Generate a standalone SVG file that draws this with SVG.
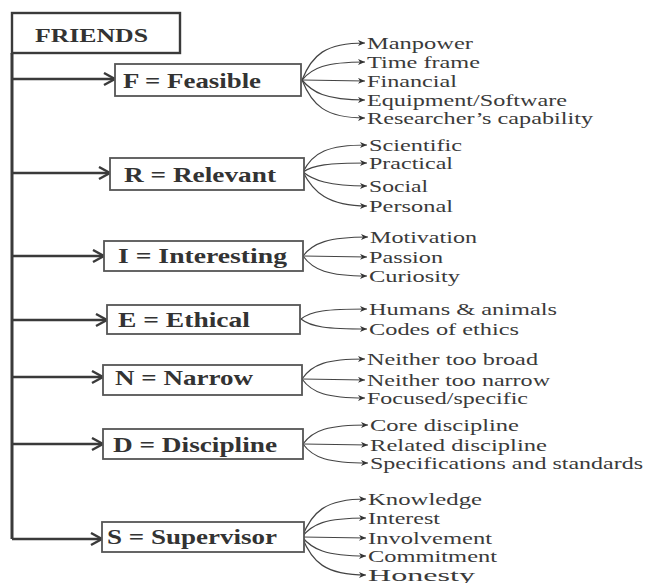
<svg xmlns="http://www.w3.org/2000/svg" width="647" height="583" viewBox="0 0 647 583">
<style>
.bx{fill:#fff;stroke:#555;stroke-width:1.8}
.fr{fill:#fff;stroke:#3a3a3a;stroke-width:2.4}
.hd{font-family:"Liberation Serif",serif;font-weight:bold;fill:#333}
.lf{font-family:"Liberation Serif",serif;font-size:17px;fill:#3a3a3a}
.trunk{fill:none;stroke:#3a3a3a;stroke-width:3}
.br{fill:none;stroke:#3a3a3a;stroke-width:2.4;marker-end:url(#chev)}
.fan{fill:none;stroke:#444;stroke-width:1.2;marker-end:url(#tri)}
</style>
<defs>
<marker id="chev" markerUnits="userSpaceOnUse" markerWidth="14" markerHeight="16" refX="12" refY="7" orient="auto">
<path d="M1,1 L12,7 L1,13" fill="none" stroke="#3a3a3a" stroke-width="2.4"/>
</marker>
<marker id="tri" markerUnits="userSpaceOnUse" markerWidth="8" markerHeight="6" refX="7" refY="3" orient="auto">
<path d="M0,0 L7,3 L0,6 L2,3 z" fill="#333"/>
</marker>
</defs>
<g id="connectors">
<path class="trunk" d="M12,53 V539"/>
<path class="br" d="M12,79 H115"/>
<path class="br" d="M12,173 H110"/>
<path class="br" d="M12,256 H104"/>
<path class="br" d="M12,320 H107"/>
<path class="br" d="M12,377 H103"/>
<path class="br" d="M12,444 H103"/>
<path class="br" d="M12,539 H102"/>
<path class="fan" d="M302,80 C312,55 325,43 365,43"/>
<path class="fan" d="M302,80 C312,68 325,62 365,62"/>
<path class="fan" d="M302,80 L365,81"/>
<path class="fan" d="M302,80 C312,92 325,100 365,100"/>
<path class="fan" d="M302,80 C312,105 325,118 365,118"/>
<path class="fan" d="M303,172 C313,152 328,145 367,145"/>
<path class="fan" d="M303,172 C313,165 328,163 367,163"/>
<path class="fan" d="M303,172 C313,180 328,186 367,186"/>
<path class="fan" d="M303,172 C313,192 328,206 367,206"/>
<path class="fan" d="M303,256 C313,243 328,237 368,237"/>
<path class="fan" d="M303,256 L367,257"/>
<path class="fan" d="M303,256 C313,270 328,276 367,276"/>
<path class="fan" d="M301,319 C311,311 326,309 367,309"/>
<path class="fan" d="M301,319 C311,327 326,329 367,329"/>
<path class="fan" d="M302,379 C312,364 327,359 365,359"/>
<path class="fan" d="M302,379 L365,380"/>
<path class="fan" d="M302,379 C312,393 327,398 365,398"/>
<path class="fan" d="M303,444 C313,430 328,425 368,425"/>
<path class="fan" d="M303,444 L368,445"/>
<path class="fan" d="M303,444 C313,458 328,463 368,463"/>
<path class="fan" d="M302,537 C312,512 325,499 366,499"/>
<path class="fan" d="M302,537 C312,524 325,518 366,518"/>
<path class="fan" d="M302,537 L366,538"/>
<path class="fan" d="M302,537 C312,549 325,556 366,556"/>
<path class="fan" d="M302,537 C312,562 325,575 366,575"/>
</g>
<g id="friends"><rect class="fr" x="12" y="13" width="168" height="40"/><text class="hd" x="35" y="42" font-size="19" textLength="113" lengthAdjust="spacingAndGlyphs">FRIENDS</text></g>
<g id="node-f"><rect class="bx" x="115" y="64" width="186" height="32"/><text class="hd" x="123" y="88" font-size="22" textLength="138" lengthAdjust="spacingAndGlyphs">F = Feasible</text></g>
<g id="node-r"><rect class="bx" x="110" y="158" width="194" height="32"/><text class="hd" x="124" y="182" font-size="22" textLength="152" lengthAdjust="spacingAndGlyphs">R = Relevant</text></g>
<g id="node-i"><rect class="bx" x="104" y="241" width="199" height="30"/><text class="hd" x="118" y="263" font-size="22" textLength="169" lengthAdjust="spacingAndGlyphs">I = Interesting</text></g>
<g id="node-e"><rect class="bx" x="107" y="305" width="193" height="29"/><text class="hd" x="118" y="327" font-size="22" textLength="132" lengthAdjust="spacingAndGlyphs">E = Ethical</text></g>
<g id="node-n"><rect class="bx" x="103" y="365" width="199" height="30"/><text class="hd" x="115" y="385" font-size="22" textLength="138" lengthAdjust="spacingAndGlyphs">N = Narrow</text></g>
<g id="node-d"><rect class="bx" x="103" y="429" width="200" height="30"/><text class="hd" x="113" y="452" font-size="22" textLength="164" lengthAdjust="spacingAndGlyphs">D = Discipline</text></g>
<g id="node-s"><rect class="bx" x="102" y="522" width="202" height="30"/><text class="hd" x="107" y="544" font-size="22" textLength="170" lengthAdjust="spacingAndGlyphs">S = Supervisor</text></g>
<g id="leaves-f">
<text class="lf" x="367" y="48.5" textLength="106" lengthAdjust="spacingAndGlyphs">Manpower</text>
<text class="lf" x="367" y="67.5" textLength="113" lengthAdjust="spacingAndGlyphs">Time frame</text>
<text class="lf" x="367" y="86.5" textLength="90" lengthAdjust="spacingAndGlyphs">Financial</text>
<text class="lf" x="367" y="105.5" textLength="200" lengthAdjust="spacingAndGlyphs">Equipment/Software</text>
<text class="lf" x="367" y="123.5" textLength="226" lengthAdjust="spacingAndGlyphs">Researcher’s capability</text>
</g>
<g id="leaves-r">
<text class="lf" x="369" y="150.5" textLength="93" lengthAdjust="spacingAndGlyphs">Scientific</text>
<text class="lf" x="369" y="168.5" textLength="84" lengthAdjust="spacingAndGlyphs">Practical</text>
<text class="lf" x="369" y="191.5" textLength="59" lengthAdjust="spacingAndGlyphs">Social</text>
<text class="lf" x="369" y="211.5" textLength="84" lengthAdjust="spacingAndGlyphs">Personal</text>
</g>
<g id="leaves-i">
<text class="lf" x="370" y="242.5" textLength="107" lengthAdjust="spacingAndGlyphs">Motivation</text>
<text class="lf" x="369" y="262.5" textLength="74" lengthAdjust="spacingAndGlyphs">Passion</text>
<text class="lf" x="369" y="281.5" textLength="91" lengthAdjust="spacingAndGlyphs">Curiosity</text>
</g>
<g id="leaves-e">
<text class="lf" x="369" y="314.5" textLength="188" lengthAdjust="spacingAndGlyphs">Humans &amp; animals</text>
<text class="lf" x="369" y="334.5" textLength="150" lengthAdjust="spacingAndGlyphs">Codes of ethics</text>
</g>
<g id="leaves-n">
<text class="lf" x="367" y="364.5" textLength="171" lengthAdjust="spacingAndGlyphs">Neither too broad</text>
<text class="lf" x="367" y="385.5" textLength="183" lengthAdjust="spacingAndGlyphs">Neither too narrow</text>
<text class="lf" x="367" y="403.5" textLength="161" lengthAdjust="spacingAndGlyphs">Focused/specific</text>
</g>
<g id="leaves-d">
<text class="lf" x="370" y="430.5" textLength="149" lengthAdjust="spacingAndGlyphs">Core discipline</text>
<text class="lf" x="370" y="450.5" textLength="177" lengthAdjust="spacingAndGlyphs">Related discipline</text>
<text class="lf" x="370" y="468.5" textLength="273" lengthAdjust="spacingAndGlyphs">Specifications and standards</text>
</g>
<g id="leaves-s">
<text class="lf" x="368" y="504.5" textLength="114" lengthAdjust="spacingAndGlyphs">Knowledge</text>
<text class="lf" x="368" y="523.5" textLength="72" lengthAdjust="spacingAndGlyphs">Interest</text>
<text class="lf" x="368" y="543.5" textLength="124" lengthAdjust="spacingAndGlyphs">Involvement</text>
<text class="lf" x="368" y="561.5" textLength="129" lengthAdjust="spacingAndGlyphs">Commitment</text>
<text class="lf" x="368" y="580.5" textLength="107" lengthAdjust="spacingAndGlyphs">Honesty</text>
</g>
</svg>
